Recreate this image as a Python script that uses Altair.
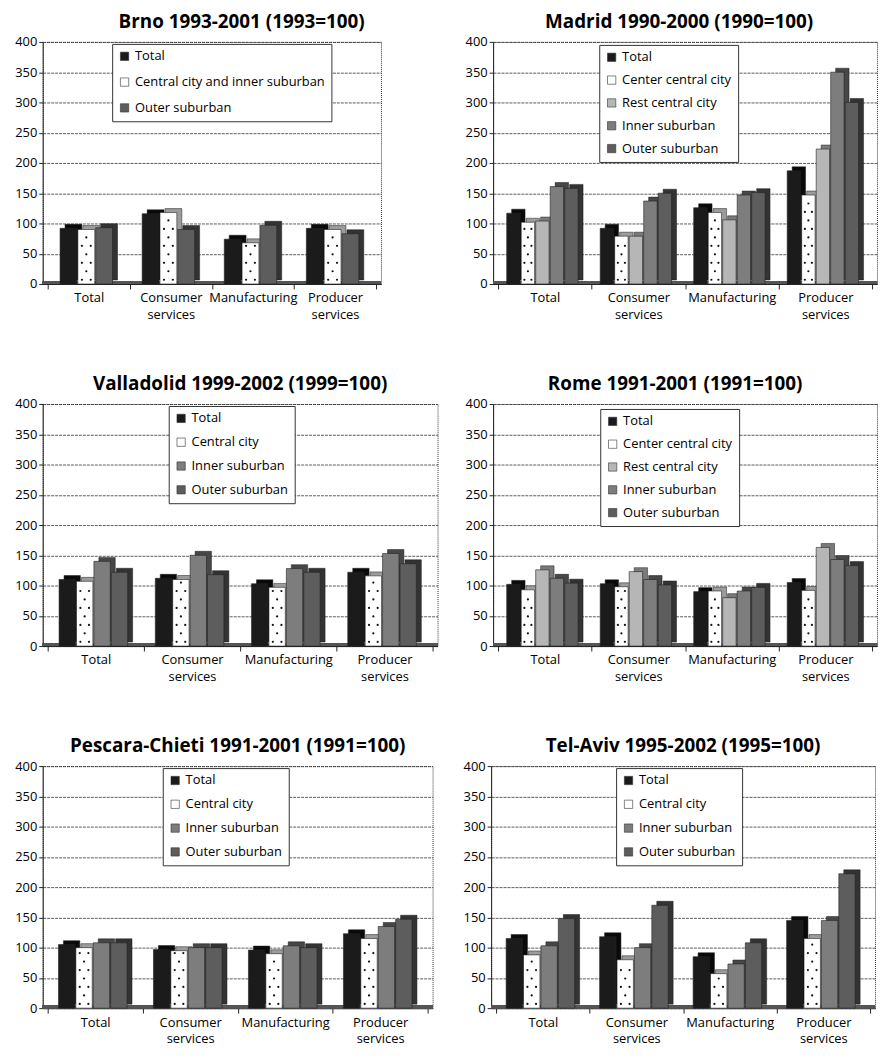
import json
import altair as alt
import pandas as pd

CATEGORIES = ["Total", "Consumer services", "Manufacturing", "Producer services"]

# ---- Brno ----
brno_title = "Brno 1993-2001 (1993=100)"
brno_series = ["Total", "Central city and inner suburban", "Outer suburban"]
brno_total = [92, 116, 74, 92]
brno_central = [90, 118, 68, 90]
brno_outer = [93, 90, 97, 83]

# ---- Madrid ----
madrid_title = "Madrid 1990-2000 (1990=100)"
madrid_series = ["Total", "Center central city", "Rest central city", "Inner suburban", "Outer suburban"]
madrid_total = [117, 92, 126, 187]
madrid_center = [102, 79, 118, 147]
madrid_rest = [104, 79, 106, 223]
madrid_inner = [161, 137, 147, 350]
madrid_outer = [158, 150, 151, 300]

# ---- Valladolid ----
valladolid_title = "Valladolid 1999-2002 (1999=100)"
valladolid_series = ["Total", "Central city", "Inner suburban", "Outer suburban"]
valladolid_total = [110, 112, 103, 122]
valladolid_central = [107, 110, 97, 116]
valladolid_inner = [140, 150, 128, 153]
valladolid_outer = [122, 118, 122, 136]

# ---- Rome ----
rome_title = "Rome 1991-2001 (1991=100)"
rome_series = ["Total", "Center central city", "Rest central city", "Inner suburban", "Outer suburban"]
rome_total = [102, 103, 90, 105]
rome_center = [93, 98, 91, 92]
rome_rest = [126, 123, 80, 163]
rome_inner = [112, 110, 91, 143]
rome_outer = [104, 101, 97, 133]

# ---- Pescara-Chieti ----
pescara_title = "Pescara-Chieti 1991-2001 (1991=100)"
pescara_series = ["Total", "Central city", "Inner suburban", "Outer suburban"]
pescara_total = [105, 97, 96, 123]
pescara_central = [100, 95, 90, 115]
pescara_inner = [108, 100, 103, 135]
pescara_outer = [108, 100, 100, 147]

# ---- Tel-Aviv ----
telaviv_title = "Tel-Aviv 1995-2002 (1995=100)"
telaviv_series = ["Total", "Central city", "Inner suburban", "Outer suburban"]
telaviv_total = [115, 118, 85, 145]
telaviv_central = [88, 80, 57, 115]
telaviv_inner = [103, 100, 73, 145]
telaviv_outer = [148, 170, 108, 222]

# ---- styles ----
COLORS = {
    "Total": "#1b1b1b",
    "Central city and inner suburban": "#ffffff",
    "Center central city": "#ffffff",
    "Central city": "#ffffff",
    "Rest central city": "#b6b6b6",
    "Inner suburban": "#7d7d7d",
    "Outer suburban": "#5d5d5d",
}
SIDE_COLORS = {
    "Total": "#0a0a0a",
    "Central city and inner suburban": "#9c9c9c",
    "Center central city": "#9c9c9c",
    "Central city": "#9c9c9c",
    "Rest central city": "#7a7a7a",
    "Inner suburban": "#474747",
    "Outer suburban": "#333333",
}
FONT = "Open Sans"
DX, DY = 5, 4
PLOT_H = 244


def panel(title, series, values, width, step_px, bar_px, legend_x, legend_y,
          row_pad=10, title_dx=0):
    n = len(series)
    rows = []
    for si, (name, vals) in enumerate(zip(series, values)):
        for ci, (cat, v) in enumerate(zip(CATEGORIES, vals)):
            rows.append({"category": cat, "ci": ci, "series": name, "si": si, "value": v})
    df = pd.DataFrame(rows)
    band = width / 4.0
    step = step_px / band
    shift = -DX / 2.0 / band
    q = 0.27 * bar_px / band
    base = alt.Chart(df).transform_calculate(
        pos=f"datum.ci + (datum.si - {(n - 1) / 2}) * {step} + {shift}"
    )
    xscale = alt.Scale(domain=[-0.5, 3.5], nice=False, zero=False)
    yscale = alt.Scale(domain=[0, 400], nice=False)
    label_expr = ("datum.value % 1 != 0 ? '' : split(" + json.dumps(CATEGORIES)
                  + "[round(datum.value)], ' ')")
    xaxis = alt.Axis(
        values=[-0.5, 0, 0.5, 1, 1.5, 2, 2.5, 3, 3.5], labelExpr=label_expr,
        title=None, grid=False, domainColor="#222", tickColor="#222", tickSize=5,
        tickOpacity={"condition": {"test": "datum.value % 1 != 0", "value": 1}, "value": 0},
        labelFontSize=13, labelLineHeight=17, labelPadding=3, labelAngle=0,
        labelFlush=False, labelOverlap=False, labelColor="black", labelFont=FONT,
    )
    yaxis = alt.Axis(
        values=list(range(0, 401, 50)), title=None, grid=True, gridColor="#333",
        gridDash=[3, 1], gridWidth=0.8, domainColor="#222", tickColor="#222",
        tickSize=4, labelFontSize=13, labelPadding=2, minExtent=34, maxExtent=34,
        labelColor="black", labelFont=FONT,
    )
    X = alt.X("pos:Q", scale=xscale, axis=xaxis)
    Y = alt.Y("value:Q", scale=yscale, axis=yaxis)

    floor = base.mark_rule(color="#555", strokeWidth=3, yOffset=-1.5).encode(
        y=alt.Y(datum=0, scale=yscale, axis=yaxis)
    )
    shadow = base.transform_calculate(side="'side: ' + datum.series").mark_bar(
        orient="vertical", width=bar_px, xOffset=DX, yOffset=-DY, y2Offset=-DY,
        stroke="#1a1a1a", strokeWidth=0.5,
    ).encode(
        x=X, y=Y,
        fill=alt.Fill(
            "side:N",
            scale=alt.Scale(domain=["side: " + s for s in series],
                            range=[SIDE_COLORS[s] for s in series]),
            legend=None,
        ),
    )
    bars = base.mark_bar(
        orient="vertical", width=bar_px, stroke="#222", strokeWidth=0.6,
    ).encode(
        x=X, y=Y,
        color=alt.Color(
            "series:N",
            scale=alt.Scale(domain=series, range=[COLORS[s] for s in series]),
            legend=alt.Legend(
                title=None, orient="none", legendX=legend_x, legendY=legend_y,
                rowPadding=row_pad,
            ),
        ),
    )
    dots = (
        base.transform_filter("datum.si == 1")
        .transform_calculate(ys="sequence(7, datum.value - 3, 14)")
        .transform_flatten(["ys"])
        .transform_calculate(cols="round((datum.ys - 7) / 14) % 2 == 0 ? [-1, 1] : [0]")
        .transform_flatten(["cols"])
        .transform_calculate(xd=f"datum.pos + datum.cols * {q}")
        .mark_circle(size=5, color="#111", opacity=1)
        .encode(
            x=alt.X("xd:Q", scale=xscale, axis=xaxis),
            y=alt.Y("ys:Q", scale=yscale, axis=yaxis),
        )
    )
    return alt.layer(floor, shadow, bars, dots).properties(
        width=width, height=PLOT_H,
        title=alt.Title(title, fontSize=19, fontWeight="bold", font=FONT,
                        offset=4, dx=title_dx, anchor="middle", color="black"),
    )


brno = panel(brno_title, brno_series, [brno_total, brno_central, brno_outer],
             341, 18.5, 17, 70, 2, row_pad=12, title_dx=30)
madrid = panel(madrid_title, madrid_series,
               [madrid_total, madrid_center, madrid_rest, madrid_inner, madrid_outer],
               387, 15, 13.5, 107, 3, row_pad=9, title_dx=-6)
valladolid = panel(valladolid_title, valladolid_series,
                   [valladolid_total, valladolid_central, valladolid_inner, valladolid_outer],
                   398, 18, 16.5, 127, 2)
rome = panel(rome_title, rome_series,
             [rome_total, rome_center, rome_rest, rome_inner, rome_outer],
             387, 15, 13.5, 108, 5, row_pad=9, title_dx=-10)
pescara = panel(pescara_title, pescara_series,
                [pescara_total, pescara_central, pescara_inner, pescara_outer],
                393, 18, 16.5, 121, 2)
telaviv = panel(telaviv_title, telaviv_series,
                [telaviv_total, telaviv_central, telaviv_inner, telaviv_outer],
                387, 18, 16.5, 126, 2)


def row(a, b, spacing):
    return (alt.hconcat(a, b, spacing=spacing)
            .resolve_scale(color="independent", fill="independent")
            .resolve_legend(color="independent", fill="independent"))


chart = (
    alt.vconcat(row(brno, madrid, 76), row(valladolid, rome, 19), row(pescara, telaviv, 22),
                spacing=52)
    .resolve_scale(color="independent", fill="independent")
    .resolve_legend(color="independent", fill="independent")
    .properties(padding=0)
    .configure(font=FONT)
    .configure_view(stroke="#333", strokeDash=[1, 1], strokeWidth=1)
    .configure_legend(
        strokeColor="#333", fillColor="white", padding=6, labelFontSize=13,
        labelFont=FONT, labelColor="black", symbolType="square", symbolSize=70,
        symbolStrokeColor="#333", symbolStrokeWidth=0.6, labelLimit=400,
        labelOffset=4,
    )
)

chart.save("out.html", embed_options={"renderer": "svg", "actions": False})
